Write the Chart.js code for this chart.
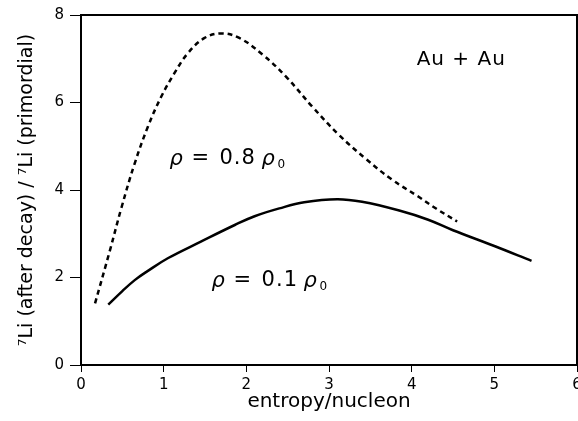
<!DOCTYPE html>
<html>
<head>
<meta charset="utf-8">
<script src="https://cdn.jsdelivr.net/npm/chart.js@4.4.0/dist/chart.umd.min.js"></script>
<style>
  html, body { margin: 0; padding: 0; background: #fff; overflow: hidden; }
  #wrap { width: 578px; height: 421px; overflow: hidden; position: relative; }
  canvas { display: block; }
</style>
</head>
<body>
<div id="wrap"><canvas id="c" width="600" height="421"></canvas></div>
<script>
// rho = 0.8 rho0 (dashed)
const dashedX = [0.17, 0.35, 0.49, 0.65, 0.81, 0.97, 1.13, 1.29, 1.49, 1.70, 1.92, 2.20, 2.48, 2.80, 3.12, 3.44, 3.76, 4.08, 4.30, 4.55];
const dashedY = [1.41, 2.62, 3.60, 4.61, 5.45, 6.13, 6.67, 7.12, 7.47, 7.58, 7.47, 7.09, 6.59, 5.90, 5.26, 4.72, 4.24, 3.85, 3.57, 3.28];
// rho = 0.1 rho0 (solid)
const solidX = [0.33, 0.50, 0.65, 0.80, 1.05, 1.45, 1.86, 2.10, 2.40, 2.70, 3.10, 3.40, 3.85, 4.20, 4.50, 5.00, 5.45];
const solidY = [1.38, 1.69, 1.94, 2.14, 2.44, 2.82, 3.20, 3.40, 3.58, 3.72, 3.79, 3.73, 3.53, 3.32, 3.08, 2.72, 2.38];
const xTicks = [0, 1, 2, 3, 4, 5, 6];
const yTicks = [0, 2, 4, 6, 8];
const xTitle = 'entropy/nucleon';
const yTitle = '\u2077Li (after decay) / \u2077Li (primordial)';
const systemLabel = 'Au + Au';
const rhoValues = ['0.8', '0.1'];

const toPts = (xs, ys) => xs.map((x, i) => ({ x: x, y: ys[i] }));
const FONT = '"DejaVu Sans", sans-serif';

const annotate = {
  id: 'annotate',
  afterDraw(chart) {
    const ctx = chart.ctx;
    const a = chart.chartArea;
    const xs = chart.scales.x, ys = chart.scales.y;
    ctx.save();
    ctx.strokeStyle = '#000';
    ctx.lineWidth = 2;
    ctx.strokeRect(a.left, a.top, a.right - a.left, a.bottom - a.top);
    ctx.fillStyle = '#000';
    ctx.textBaseline = 'middle';
    ctx.textAlign = 'left';
    ctx.letterSpacing = '1px';
    ctx.font = '20px ' + FONT;
    ctx.fillText(systemLabel, xs.getPixelForValue(4.06), ys.getPixelForValue(6.98));
    ctx.letterSpacing = '0px';
    function rhoLabel(val, x, y) {
      const px = xs.getPixelForValue(x), py = ys.getPixelForValue(y);
      ctx.font = 'italic 21px ' + FONT;
      ctx.fillText('\u03c1', px, py + 1);
      ctx.font = '21px ' + FONT;
      ctx.fillText('=', px + 22, py);
      ctx.letterSpacing = '1px';
      ctx.fillText(val, px + 50, py);
      ctx.letterSpacing = '0px';
      ctx.font = 'italic 21px ' + FONT;
      ctx.fillText('\u03c1', px + 92, py + 1);
      ctx.font = '12px ' + FONT;
      ctx.fillText('0', px + 108, py + 7);
    }
    rhoLabel(rhoValues[0], 1.07, 4.73);
    rhoLabel(rhoValues[1], 1.58, 1.94);
    ctx.restore();
  }
};

new Chart(document.getElementById('c'), {
  type: 'scatter',
  data: {
    datasets: [
      { data: toPts(dashedX, dashedY), showLine: true, borderColor: '#000', borderWidth: 2.5,
        borderDash: [5, 4], pointRadius: 0, tension: 0.4, fill: false },
      { data: toPts(solidX, solidY), showLine: true, borderColor: '#000', borderWidth: 2.5,
        pointRadius: 0, tension: 0.4, fill: false }
    ]
  },
  options: {
    responsive: false,
    animation: false,
    devicePixelRatio: 1,
    layout: { padding: { top: 15, right: 23, left: 0, bottom: 0 } },
    plugins: { legend: { display: false }, tooltip: { enabled: false } },
    scales: {
      x: {
        type: 'linear', min: 0, max: 6,
        afterBuildTicks: (s) => { s.ticks = xTicks.map(v => ({ value: v })); },
        afterFit: (s) => { s.height = 56; },
        border: { display: true, color: '#000', width: 2 },
        grid: { display: true, drawOnChartArea: false, drawTicks: true, tickLength: 7, color: '#000', lineWidth: 1 },
        ticks: { color: '#000', font: { family: FONT, size: 15 }, padding: 4, maxRotation: 0 },
        title: { display: true, text: xTitle, color: '#000', font: { family: FONT, size: 20 }, padding: { top: 0, bottom: 7 } }
      },
      y: {
        type: 'linear', min: 0, max: 8,
        afterBuildTicks: (s) => { s.ticks = yTicks.map(v => ({ value: v })); },
        afterFit: (s) => { s.width = 81; },
        border: { display: true, color: '#000', width: 2 },
        grid: { display: true, drawOnChartArea: false, drawTicks: true, tickLength: 11, color: '#000', lineWidth: 1 },
        ticks: { color: '#000', font: { family: FONT, size: 15 }, padding: 6 },
        title: { display: true, text: yTitle, color: '#000', font: { family: FONT, size: 19 }, padding: { top: 16, bottom: 0 } }
      }
    }
  },
  plugins: [annotate]
});
</script>
</body>
</html>
